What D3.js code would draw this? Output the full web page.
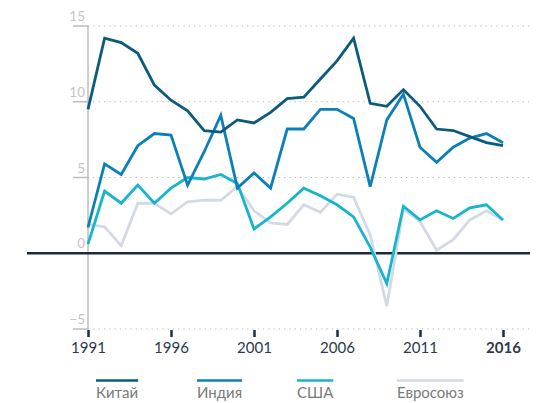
<!DOCTYPE html>
<html>
<head>
<meta charset="utf-8">
<script src="https://cdn.jsdelivr.net/npm/d3@7"></script>
<style>
  body { margin: 0; background: #fff; }
  svg text { font-family: Lato, "Open Sans", sans-serif; }
</style>
</head>
<body>
<div class="chart"></div>
<script>
var years = d3.range(1991, 2017);
var china = [9.5, 14.2, 13.9, 13.2, 11.1, 10.1, 9.4, 8.1, 8.0, 8.8, 8.6, 9.3, 10.2, 10.3, 11.5, 12.7, 14.2, 9.9, 9.7, 10.8, 9.7, 8.2, 8.1, 7.7, 7.3, 7.1];
var india = [1.7, 5.9, 5.2, 7.1, 7.9, 7.8, 4.5, 6.7, 9.1, 4.3, 5.3, 4.3, 8.2, 8.2, 9.5, 9.5, 8.9, 4.4, 8.8, 10.5, 7.0, 6.0, 7.0, 7.6, 7.9, 7.3];
var usa = [0.6, 4.1, 3.3, 4.5, 3.3, 4.3, 5.0, 4.9, 5.2, 4.6, 1.6, 2.4, 3.3, 4.3, 3.8, 3.2, 2.4, 0.4, -2.0, 3.1, 2.2, 2.8, 2.3, 3.0, 3.2, 2.2];
var eu = [1.9, 1.75, 0.5, 3.3, 3.3, 2.6, 3.4, 3.5, 3.5, 4.4, 2.8, 2.0, 1.9, 3.2, 2.7, 3.9, 3.7, 1.2, -3.5, 2.9, 2.1, 0.2, 0.9, 2.2, 2.8, 2.2];
var yTicks = [-5, 0, 5, 10, 15];
var xTicks = [1991, 1996, 2001, 2006, 2011, 2016];
var seriesNames = ["Китай", "Индия", "США", "Евросоюз"];

var series = [
  {name: seriesNames[3], values: eu, color: "#d3dae3"},
  {name: seriesNames[2], values: usa, color: "#15b6cb"},
  {name: seriesNames[1], values: india, color: "#0c80b6"},
  {name: seriesNames[0], values: china, color: "#0b5b7c"}
];

var w = 543, h = 403;
var svg = d3.select(".chart").append("svg")
  .attr("width", w).attr("height", h);

var x = d3.scaleLinear().domain([1991, 2016]).range([88, 503]);
var y = d3.scaleLinear().domain([-5, 15]).range([329, 26]);

// dotted gridlines
svg.append("g").selectAll("line")
  .data(yTicks.filter(function(d) { return d !== 0; }))
  .enter().append("line")
  .attr("x1", 88).attr("x2", 530)
  .attr("y1", function(d) { return y(d); })
  .attr("y2", function(d) { return y(d); })
  .attr("stroke", "#b8b8b8")
  .attr("stroke-width", 1.2)
  .attr("stroke-dasharray", "1.3,4");

// y axis line + ticks
svg.append("line")
  .attr("x1", 88).attr("x2", 88)
  .attr("y1", y(15)).attr("y2", y(-5))
  .attr("stroke", "#bdbdbd").attr("stroke-width", 1.5);

svg.append("g").selectAll("line")
  .data(yTicks)
  .enter().append("line")
  .attr("x1", 73).attr("x2", 88)
  .attr("y1", function(d) { return y(d); })
  .attr("y2", function(d) { return y(d); })
  .attr("stroke", "#bdbdbd").attr("stroke-width", 1.5);

svg.append("g").selectAll("text")
  .data(yTicks)
  .enter().append("text")
  .attr("x", 85)
  .attr("y", function(d) { return y(d) - 5; })
  .attr("text-anchor", "end")
  .attr("fill", "#c4c4c4")
  .attr("font-size", 13.5)
  .text(function(d) { return d < 0 ? "\u2212" + Math.abs(d) : d; });

// x axis
var xAxis = svg.append("g")
  .attr("transform", "translate(0," + (y(-5) + 1) + ")")
  .call(d3.axisBottom(x).tickValues(xTicks).tickFormat(d3.format("d")).tickSize(7).tickPadding(5));
xAxis.select(".domain").remove();
xAxis.selectAll(".tick line").attr("stroke", "#1c2e40").attr("stroke-width", 2.5);
xAxis.selectAll(".tick text")
  .attr("fill", "#2a3a4c")
  .attr("font-size", 15)
  .style("font-family", "Lato, 'Open Sans', sans-serif")
  .attr("font-weight", function(d) { return d === 2016 ? "bold" : "normal"; });

// zero line
svg.append("line")
  .attr("x1", 27).attr("x2", 530)
  .attr("y1", y(0)).attr("y2", y(0))
  .attr("stroke", "#1a2a3b").attr("stroke-width", 2.5);

var line = d3.line()
  .x(function(d, i) { return x(years[i]); })
  .y(function(d) { return y(d); });

svg.append("g").selectAll("path")
  .data(series)
  .enter().append("path")
  .attr("d", function(d) { return line(d.values); })
  .attr("fill", "none")
  .attr("stroke", function(d) { return d.color; })
  .attr("stroke-width", 2.8)
  .attr("stroke-linejoin", "miter");

// legend
var legendX = [96, 197, 297, 397];
var legend = svg.append("g").selectAll("g")
  .data(series.slice().reverse())
  .enter().append("g")
  .attr("transform", function(d, i) { return "translate(" + legendX[i] + ",0)"; });

legend.append("text")
  .attr("x", 0).attr("y", 398)
  .attr("fill", "#7a7a7a")
  .attr("font-size", 15)
  .text(function(d) { return d.name; })
  .each(function(d) { d.tw = this.getComputedTextLength(); });

legend.append("line")
  .attr("x1", 0)
  .attr("x2", function(d) { return d.tw; })
  .attr("y1", 380.5).attr("y2", 380.5)
  .attr("stroke", function(d) { return d.color; })
  .attr("stroke-width", 2.5);
</script>
</body>
</html>
